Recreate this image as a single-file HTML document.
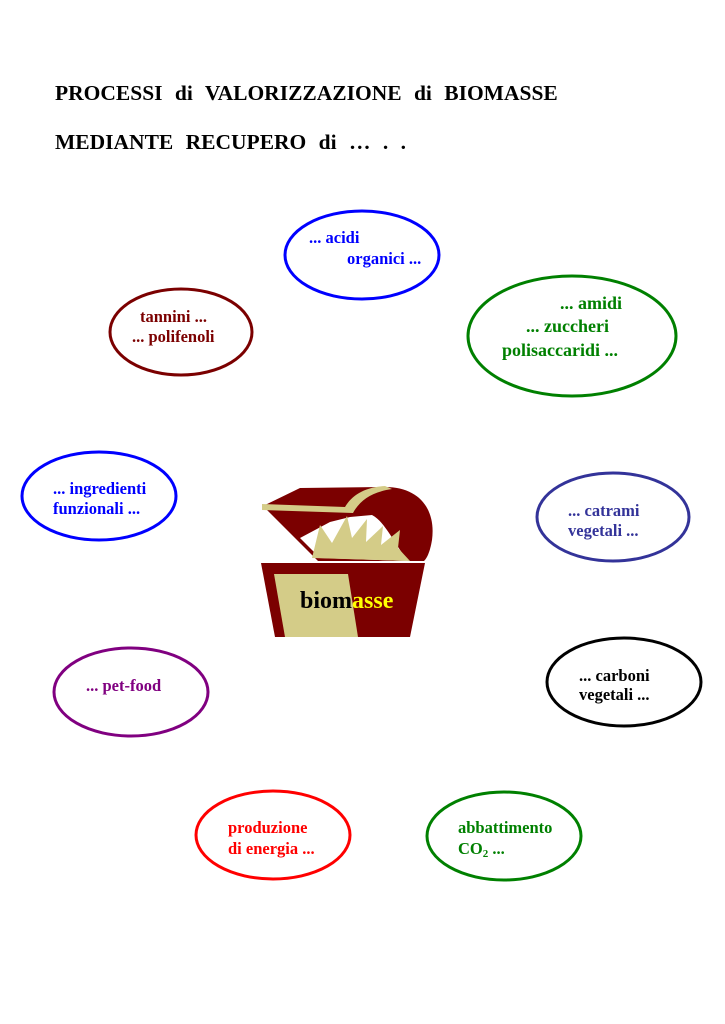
<!DOCTYPE html>
<html><head><meta charset="utf-8"><style>
body{margin:0;background:#fff}
svg{display:block}
text{font-family:"Liberation Serif",serif;font-weight:bold}
</style></head><body>
<svg width="725" height="1024" viewBox="0 0 725 1024">
<text x="55" y="100" font-size="21.5" word-spacing="7">PROCESSI di VALORIZZAZIONE di BIOMASSE</text>
<text x="55" y="149" font-size="21.5" word-spacing="7">MEDIANTE RECUPERO di … . .</text>
<g fill="none" stroke-width="3">
<ellipse cx="362" cy="255" rx="77" ry="44" stroke="#0000ff"/>
<ellipse cx="181" cy="332" rx="71" ry="43" stroke="#7b0000"/>
<ellipse cx="572" cy="336" rx="104" ry="60" stroke="#008000"/>
<ellipse cx="99" cy="496" rx="77" ry="44" stroke="#0000ff"/>
<ellipse cx="613" cy="517" rx="76" ry="44" stroke="#333399"/>
<ellipse cx="131" cy="692" rx="77" ry="44" stroke="#800080"/>
<ellipse cx="624" cy="682" rx="77" ry="44" stroke="#000"/>
<ellipse cx="273" cy="835" rx="77" ry="44" stroke="#ff0000"/>
<ellipse cx="504" cy="836" rx="77" ry="44" stroke="#008000"/>
</g>
<g font-size="16.5">
<text x="309" y="243" fill="#0000ff">...  acidi</text>
<text x="347" y="264" fill="#0000ff">organici ...</text>
<text x="140" y="322" fill="#7b0000">tannini ...</text>
<text x="132" y="342" fill="#7b0000">... polifenoli</text>
<text x="560" y="309" fill="#008000" font-size="18">... amidi</text>
<text x="526" y="332" fill="#008000" font-size="18">... zuccheri</text>
<text x="502" y="356" fill="#008000" font-size="18">polisaccaridi ...</text>
<text x="53" y="494" fill="#0000ff">... ingredienti</text>
<text x="53" y="514" fill="#0000ff">funzionali ...</text>
<text x="568" y="516" fill="#333399">... catrami</text>
<text x="568" y="536" fill="#333399">vegetali ...</text>
<text x="86" y="691" fill="#800080">... pet-food</text>
<text x="579" y="681" fill="#000">... carboni</text>
<text x="579" y="700" fill="#000">vegetali ...</text>
<text x="228" y="833" fill="#ff0000">produzione</text>
<text x="228" y="854" fill="#ff0000">di energia ...</text>
<text x="458" y="833" fill="#008000">abbattimento</text>
<text x="458" y="854" fill="#008000">CO<tspan font-size="11" dy="3">2</tspan><tspan dy="-3"> ...</tspan></text>
</g>
<!-- chest -->
<path d="M263,506 L300,488 L385,487 C420,487 436,510 432,540 C430,552 427,558 424,561 L318,561 Z" fill="#7b0000"/>
<path d="M320,558 L300,538 L330,522 L350,517 L372,515 C385,522 392,540 408,561 Z" fill="#fff"/>
<polygon points="312,558 320,525 332,543 347,516 352,538 367,519 366,542 383,526 381,545 400,530 398,548 410,561" fill="#d4cc88"/>
<path d="M262,504 L345,507 C352,495 365,487 385,486 L392,489 C372,492 360,500 353,513 L262,510 Z" fill="#d4cc88"/>
<polygon points="261,563 425,563 410,637 275,637" fill="#7b0000"/>
<polygon points="274,574 348,574 358,637 285,637" fill="#d4cc88"/>
<text x="300" y="608" font-size="24" fill="#000">biom<tspan fill="#ffff00">asse</tspan></text>
</svg>
</body></html>
